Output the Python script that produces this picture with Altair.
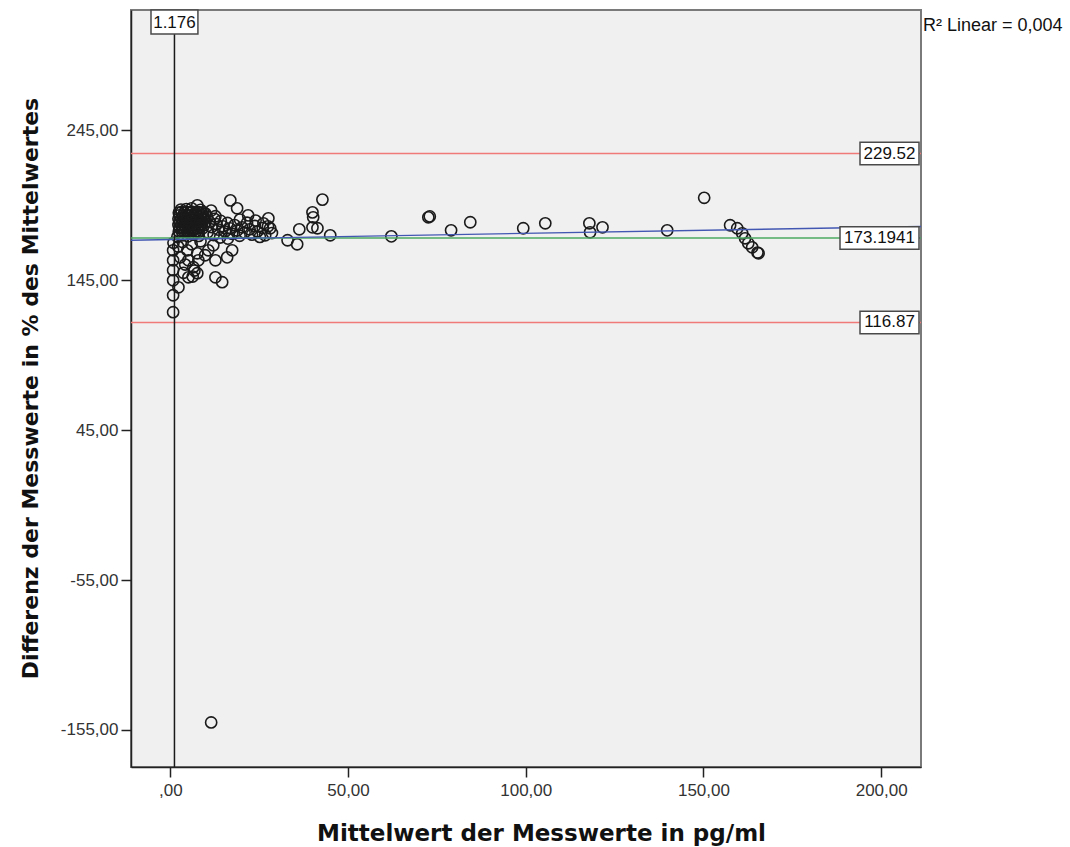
import altair as alt
import pandas as pd

# ---- data ----
blob = [
    (2.4,190.1),(3.2,190.6),(3.9,190.0),(4.8,190.5),(5.6,190.2),(6.3,190.7),(7.2,190.0),(8.0,190.4),(8.8,189.8),
    (2.6,188.3),(3.5,187.9),(4.3,188.5),(5.1,188.0),(5.9,188.4),(6.7,187.8),(7.5,188.3),(8.3,187.9),(9.2,188.2),
    (2.3,186.0),(3.1,186.4),(3.9,185.8),(4.7,186.2),(5.5,186.5),(6.3,185.9),(7.1,186.3),(7.9,185.7),(8.7,186.1),(9.5,185.9),
    (2.6,184.1),(3.5,183.7),(4.3,184.3),(5.1,183.8),(5.9,184.2),(6.7,183.6),(7.5,184.0),(8.3,184.4),(9.1,183.9),
    (2.3,181.8),(3.1,182.2),(3.9,181.6),(4.7,182.0),(5.5,182.3),(6.3,181.7),(7.1,182.1),(7.9,181.5),(8.7,182.0),(9.5,181.8),
    (2.6,179.9),(3.5,179.5),(4.3,180.1),(5.1,179.6),(5.9,180.0),(6.7,179.4),(7.5,179.8),(8.3,180.2),(9.1,179.7),
    (2.4,177.6),(3.2,178.0),(4.0,177.4),(4.8,177.9),(5.6,177.5),(6.4,178.1),(7.2,177.6),(8.0,177.3),
    (7.6,195.0),(4.5,192.5),(6.0,193.0),(3.0,192.2),(8.5,192.0),(9.3,190.3),
    (2.0,174.0),(3.5,175.0),(5.0,174.3),(6.5,175.4),(8.0,174.6),
]
tail = [
    (10.3,187.5),(11.0,184.0),(11.6,180.5),(10.5,177.0),(12.4,186.0),(12.9,182.5),(13.5,178.8),(12.2,175.2),
    (14.2,184.6),(14.8,181.0),(15.4,177.5),(14.0,173.5),(16.1,183.2),(16.8,179.6),(17.4,176.0),(16.2,172.8),
    (18.1,181.8),(18.8,178.2),(19.5,174.7),(20.2,180.3),(20.9,176.8),(21.6,183.4),(22.3,179.0),(23.0,175.4),
    (23.8,181.2),(24.5,177.6),(25.2,173.9),(26.0,179.8),(26.7,175.0),(27.5,181.0),(28.1,179.7),(28.6,176.5),
    (26.2,183.0),(27.6,186.3),(21.9,188.3),(18.8,193.0),(16.9,198.3),(12.7,187.7),(9.9,189.5),(19.6,185.5),
    (24.0,184.8),(11.5,191.5),
]
low = [
    (0.8,123.7),(0.8,135.0),(2.3,140.3),(0.8,145.0),(0.8,151.7),(0.8,158.3),(0.8,165.0),(0.9,170.0),
    (4.8,165.0),(5.1,158.3),(7.6,163.0),(6.5,153.7),(7.6,149.7),(5.1,147.0),(3.7,150.0),(2.8,160.3),
    (7.9,158.3),(9.8,161.7),(12.7,158.3),(16.0,160.3),(12.7,147.0),(14.6,143.7),(10.7,165.0),(12.1,168.3),
    (6.8,151.5),(4.2,155.5),(2.2,167.5),(3.5,170.5),(6.0,169.0),(8.5,171.0),(17.4,165.0),(6.3,147.5),
]
mid = [
    (33.0,171.7),(35.7,169.0),(36.3,179.0),(40.0,190.3),(40.2,187.0),(40.0,180.3),(41.4,179.7),
    (42.8,198.8),(45.0,175.0),
]
far = [
    (62.2,174.3),(72.6,187.0),(73.0,187.6),(79.0,178.3),(84.4,183.7),(99.3,179.7),(105.5,183.0),
    (117.9,183.0),(118.1,177.0),(121.6,180.3),(139.8,178.3),(150.2,200.0),(157.5,181.7),(159.5,179.7),
    (160.9,176.3),(161.7,173.0),(162.6,169.7),(163.7,167.0),(165.2,163.5),(165.5,163.0),
]
outlier = [(11.5,-150.0)]

mean_diff = 173.1941
upper_loa = 229.52
lower_loa = 116.87
x_ref = 1.176
fit_x = [-11.05, 211.2]
fit_y = [171.7, 180.9]
r2_text = "R² Linear = 0,004"

x_ticks = [0, 50, 100, 150, 200]
y_ticks = [245, 145, 45, -55, -155]
x_domain = [-11.05, 211.2]
y_domain = [-179.7, 325.3]

x_title = "Mittelwert der Messwerte in pg/ml"
y_title = "Differenz der Messwerte in % des Mittelwertes"

# ---- tables ----
pts = blob + tail + low + mid + far + outlier
df_pts = pd.DataFrame({"mx": [p[0] for p in pts], "dy": [p[1] for p in pts]})
df_fit = pd.DataFrame({"mx": fit_x, "dy": fit_y})

W, H = 790, 757

label_expr_x = "datum.value == 0 ? ',00' : replace(format(datum.value, '.2f'), '.', ',')"
label_expr_y = "(datum.value < 0 ? '-' : '') + replace(format(abs(datum.value), '.2f'), '.', ',')"

x_axis = alt.Axis(values=x_ticks, labelExpr=label_expr_x, title=x_title, grid=False,
                  titleX=410, titleY=66, titleBaseline="middle", titleAlign="center",
                  labelPadding=5, titleFontSize=23)
y_axis = alt.Axis(values=y_ticks, labelExpr=label_expr_y, title=y_title, grid=False,
                  titleX=-101, titleY=378, titleAngle=-90, titleBaseline="middle",
                  titleAlign="center", labelPadding=3, titleFontSize=22)
xs = alt.Scale(domain=x_domain, nice=False, zero=False)
ys = alt.Scale(domain=y_domain, nice=False, zero=False)


def X(field="mx"):
    return alt.X(f"{field}:Q", scale=xs, axis=x_axis)


def Y(field="dy"):
    return alt.Y(f"{field}:Q", scale=ys, axis=y_axis)


points = alt.Chart(df_pts).mark_point(
    shape="circle", filled=False, size=125, strokeWidth=1.6, color="#1a1a1a", opacity=1
).encode(x=X(), y=Y())

def hline(value, color):
    return alt.Chart(pd.DataFrame({"dy": [value]})).mark_rule(
        color=color, strokeWidth=1.5
    ).encode(y=Y(), x=alt.value(0), x2=alt.value(W))

red1 = hline(upper_loa, "#f07a78")
red2 = hline(lower_loa, "#f07a78")
green = hline(mean_diff, "#4daa63")

fit = alt.Chart(df_fit).mark_line(color="#4257b2", strokeWidth=1.4).encode(x=X(), y=Y())

vline = alt.Chart(pd.DataFrame({"mx": [x_ref]})).mark_rule(
    color="#1a1a1a", strokeWidth=1.5
).encode(x=X(), y=alt.value(0), y2=alt.value(H))


def hlabel(value, text, left, right):
    d = pd.DataFrame({"dy": [value], "lo": [value - 7.5], "hi": [value + 7.5], "t": [text]})
    box = alt.Chart(d).mark_rect(fill="white", stroke="#4a4a4a", strokeWidth=1.5).encode(
        y=Y("lo"), y2="hi:Q", x=alt.value(left), x2=alt.value(right)
    )
    txt = alt.Chart(d).mark_text(
        font="Liberation Sans", fontSize=17, color="#111", align="center", baseline="middle"
    ).encode(y=Y(), x=alt.value((left + right) / 2), text="t:N")
    return box + txt

lab1 = hlabel(upper_loa, "229.52", 729, 788)
lab2 = hlabel(mean_diff, "173.1941", 709, 788)
lab3 = hlabel(lower_loa, "116.87", 729, 788)

dv = pd.DataFrame({"mx": [x_ref], "lo": [x_ref - 6.6], "hi": [x_ref + 6.6], "t": [f"{x_ref}"]})
vbox = alt.Chart(dv).mark_rect(fill="white", stroke="#4a4a4a", strokeWidth=1.5).encode(
    x=X("lo"), x2="hi:Q", y=alt.value(0), y2=alt.value(24)
)
vtxt = alt.Chart(dv).mark_text(
    font="Liberation Sans", fontSize=17, color="#111", align="center", baseline="middle"
).encode(x=X(), y=alt.value(13), text="t:N")

r2 = alt.Chart(pd.DataFrame({"t": [r2_text]})).mark_text(
    font="Liberation Sans", fontSize=18, color="#111", align="left", baseline="middle"
).encode(x=alt.value(792), y=alt.value(16), text="t:N")

chart = alt.layer(
    points, red1, red2, green, fit, vline, lab1, lab2, lab3, vbox, vtxt, r2
).properties(
    width=W, height=H,
    autosize=alt.AutoSizeParams(type="none"),
    padding={"left": 131, "top": 10, "right": 149, "bottom": 80},
    background="white",
).configure_view(
    fill="#f0f0f0", stroke="#7a7a7a", strokeWidth=2
).configure_axis(
    domainColor="#222", domainWidth=1.5, tickColor="#222", tickWidth=1.5, tickSize=10,
    labelFont="Liberation Sans", labelFontSize=17, labelColor="#333",
    titleFont="DejaVu Sans", titleFontWeight="bold", titleColor="#111",
)

chart.save("out.html", embed_options={"renderer": "svg", "actions": False})
